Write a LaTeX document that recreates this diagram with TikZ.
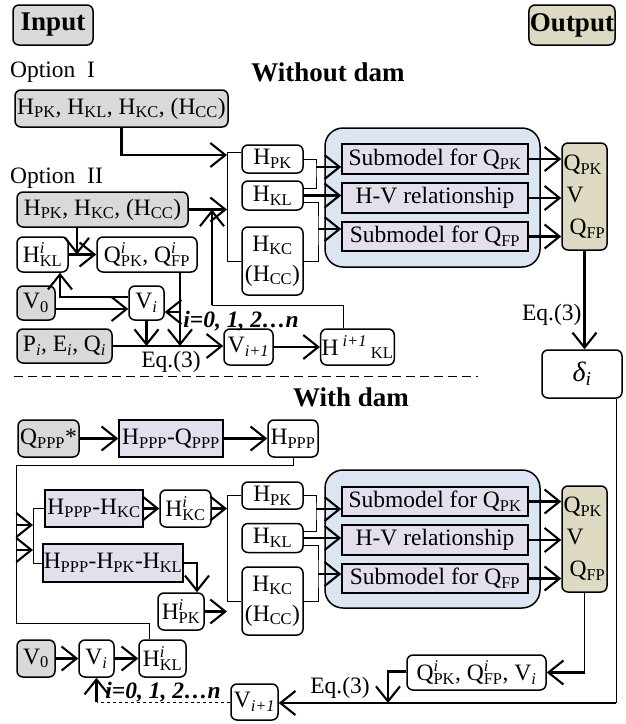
\documentclass[tikz,border=0pt]{standalone}
\usepackage{fontspec}
\setmainfont{Liberation Serif}
\usepackage{tikz}
\usetikzlibrary{arrows.meta}
\definecolor{inputgray}{HTML}{D9D9D9}
\definecolor{modelblue}{HTML}{DCE6F2}
\definecolor{sublilac}{HTML}{E4DFEC}
\definecolor{outtan}{HTML}{DDD9C3}
\newcommand\lo[1]{\textsubscript{#1}}
\newcommand\Hsi[2]{#1\rlap{\textsuperscript{\itshape i}}\lo{#2}}
\newcommand\iterlabel{\textbf{\textit{i=0, 1, 2\ldots n}}}

\begin{document}
\begin{tikzpicture}[
  x=1pt,y=-1pt,
  font=\fontsize{23.5}{26}\selectfont,
  every node/.style={inner sep=1pt},
  inbox/.style={draw,rounded corners=6pt,line width=1.5pt,fill=inputgray},
  varbox/.style={draw,rounded corners=6pt,line width=1.5pt,fill=white},
  funbox/.style={draw,line width=1.5pt,fill=sublilac},
  modelbox/.style={draw,rounded corners=18pt,line width=1.5pt,fill=modelblue},
  outbox/.style={draw,rounded corners=6pt,line width=1.5pt,fill=outtan},
  title/.style={font=\fontsize{27}{30}\selectfont\bfseries},
  arrow/.style={-{Straight Barb[length=15pt,width=24pt]},line width=2.1pt},
  link/.style={line width=0.9pt}
]
\useasboundingbox (0,0) rectangle (625,724);

% headings
\node[inbox,title,minimum width=80,minimum height=40] (input) at (53,25) {Input};
\node[outbox,title,minimum width=80,minimum height=40] (output) at (572,25) {Output};
\node[anchor=west] (opt1) at (9,72) {Option~~I};
\node[title] (nodam) at (328,72) {Without dam};
\node[anchor=west] (opt2) at (9,178) {Option~~II};

% without dam: inputs
\node[inbox,minimum width=213,minimum height=37] (in1) at (121.5,108.5)
  {H\lo{PK}, H\lo{KL}, H\lo{KC}, (H\lo{CC})};
\node[inbox,minimum width=171,minimum height=35] (in2) at (102.5,209.5)
  {H\lo{PK}, H\lo{KC}, (H\lo{CC})};
\node[varbox,minimum width=51,minimum height=35] (hkli) at (42.5,254.5) {\Hsi{H}{KL}};
\node[varbox,minimum width=100,minimum height=35] (qi) at (147,254.5) {\Hsi{Q}{PK}, \Hsi{Q}{FP}};
\node[inbox,minimum width=38,minimum height=34] (v0) at (36,303) {V\lo{0}};
\node[varbox,minimum width=35,minimum height=34] (vi) at (146.5,303) {V\lo{\itshape i}};
\node[inbox,minimum width=95,minimum height=34] (pei) at (64.5,346)
  {P\lo{\itshape i}, E\lo{\itshape i}, Q\lo{\itshape i}};
\node[varbox,minimum width=49,minimum height=36] (vip) at (248.5,347) {V\lo{\itshape i+1}};
\node[varbox,minimum width=67,minimum height=36] (hklip) at (357.5,347)
  {H\,\textsuperscript{\itshape i+1}\,\lo{KL}};
\node (eqa) at (171,362) {Eq.(3)};
\node (itera) at (241,321) {\iterlabel};

% without dam: model
\node[varbox,minimum width=61,minimum height=28] (hpk) at (272.5,159) {H\lo{PK}};
\node[varbox,minimum width=61,minimum height=29] (hkl) at (272.5,195.5) {H\lo{KL}};
\node[varbox,minimum width=61,minimum height=68,align=center,
  font=\fontsize{23.5}{30}\selectfont] (hkc) at (272.5,261) {H\lo{KC}\\(H\lo{CC})};
\node[modelbox,minimum width=215,minimum height=139] (model) at (432.5,197.5) {};
\node[funbox,minimum width=186,minimum height=30] (sqpk) at (435,159) {Submodel for Q\lo{PK}};
\node[funbox,minimum width=186,minimum height=30] (hv) at (435,198) {H-V relationship};
\node[funbox,minimum width=186,minimum height=29] (sqfp) at (435,236.5) {Submodel for Q\lo{FP}};
\node[outbox,minimum width=45,minimum height=107,align=left,
  font=\fontsize{23.5}{32}\selectfont] (res) at (584.5,196.5)
  {Q\lo{PK}\\\hspace*{3pt}V\\\hspace*{6pt}Q\lo{FP}};
\node[varbox,minimum width=80,minimum height=48,font=\fontsize{28}{30}\selectfont\itshape]
  (delta) at (582,374) {δ\lo{i}};

\coordinate (ja) at (227,155);
\coordinate (ka) at (316,167);
\coordinate (kb) at (318,229);
\coordinate (up) at (212,305);
\coordinate (mq) at (77,254.5);
\coordinate (eq) at (180,346);
\coordinate (fb) at (180,312);

\draw[arrow] (in1.south) |- (ja);
\draw[link] ([yshift=7pt]hpk.west) -| (hkc.west -| ja) -- (hkc.west);
\draw[arrow] (in2.east) -- (in2.east -| ja);
\draw[link] ([xshift=-14pt]hklip.north) |- (up);
\draw[arrow] (up) -- (up |- in2.east);
\draw[link] (hpk.east) -| (ka) |- ([yshift=7pt]hkl.east);
\draw[arrow] (ka) -- (ka -| sqpk.west);
\draw[arrow] (hkl.east) -- (hkl.east -| hv.west);
\draw[link] ([yshift=-7pt]hkl.east) -| (kb) |- (hkc.east);
\draw[arrow] (kb) -- (kb -| sqfp.west);
\draw[arrow] (sqpk.east) -- (sqpk.east -| res.west);
\draw[arrow] (hv.east) -- (hv.east -| res.west);
\draw[arrow] (sqfp.east) -- (sqfp.east -| res.west);
\draw[arrow] (res.south) -- (res.south |- delta.north)
  node[pos=0.65,left,inner sep=2pt] {Eq.(3)};
\draw[arrow] (hkli.east) -- (qi.west);
\draw[arrow] (in2.south -| mq) -- (mq);
\draw[arrow] ([yshift=6pt]vi.west) -| ([xshift=17.5pt]hkli.south);
\draw[arrow] ([yshift=-6pt]v0.east) -- ([yshift=-6pt]vi.west);
\draw[arrow] (qi.south -| eq) -- (eq);
\draw[arrow] (fb) -- (fb -| vi.east);
\draw[arrow] (vi.south) -- (vi.south |- eq);
\draw[arrow] (pei.east) -- (pei.east -| vip.west);
\draw[arrow] (vip.east) -- (hklip.west);

% separator
\coordinate (sepl) at (14,376);
\coordinate (sepr) at (478,376);
\draw[line width=0.9pt,dash pattern=on 9pt off 5pt] (sepl) -- (sepr);
\node[title] (dam) at (351,397) {With dam};

% with dam: inputs
\node[inbox,minimum width=61,minimum height=37] (qppp) at (48.5,438.5) {Q\lo{PPP}*};
\node[funbox,minimum width=104,minimum height=37] (hqppp) at (171,438.5) {H\lo{PPP}-Q\lo{PPP}};
\node[varbox,minimum width=50,minimum height=37] (hppp) at (293,438.5) {H\lo{PPP}};
\node[funbox,minimum width=98,minimum height=37] (hkcfun) at (94,508.5) {H\lo{PPP}-H\lo{KC}};
\node[varbox,minimum width=51,minimum height=37] (hkci) at (185.5,508.5) {\Hsi{H}{KC}};
\node[funbox,minimum width=140,minimum height=38] (hpklfun) at (113,563)
  {H\lo{PPP}-H\lo{PK}-H\lo{KL}};
\node[varbox,minimum width=46,minimum height=37] (hpki) at (181,611.5) {\Hsi{H}{PK}};
\node[inbox,minimum width=38,minimum height=37] (v02) at (36,658.5) {V\lo{0}};
\node[varbox,minimum width=35,minimum height=37] (vi2) at (96.5,658.5) {V\lo{\itshape i}};
\node[varbox,minimum width=47,minimum height=37] (hkli2) at (162.5,658.5) {\Hsi{H}{KL}};
\node[varbox,minimum width=139,minimum height=35] (qif) at (476.5,672.5)
  {\Hsi{Q}{PK}, \Hsi{Q}{FP}, V\lo{\itshape i}};
\node[varbox,minimum width=47,minimum height=36] (vip2) at (254.5,702) {V\lo{\itshape i+1}};
\node (eqb) at (340,688) {Eq.(3)};
\node (iterb) at (163,692) {\iterlabel};

% with dam: model
\node[varbox,minimum width=61,minimum height=27] (hpk2) at (272.5,495.5) {H\lo{PK}};
\node[varbox,minimum width=61,minimum height=29] (hkl2) at (272.5,538) {H\lo{KL}};
\node[varbox,minimum width=61,minimum height=68,align=center,
  font=\fontsize{23.5}{30}\selectfont] (hkc2) at (272.5,601) {H\lo{KC}\\(H\lo{CC})};
\node[modelbox,minimum width=215,minimum height=138] (model2) at (432.5,539) {};
\node[funbox,minimum width=186,minimum height=29] (sqpk2) at (435,501.5) {Submodel for Q\lo{PK}};
\node[funbox,minimum width=186,minimum height=30] (hv2) at (435,540) {H-V relationship};
\node[funbox,minimum width=186,minimum height=29] (sqfp2) at (435,578.5) {Submodel for Q\lo{FP}};
\node[outbox,minimum width=45,minimum height=106,align=left,
  font=\fontsize{23.5}{32}\selectfont] (res2) at (584.5,539)
  {Q\lo{PK}\\\hspace*{3pt}V\\\hspace*{6pt}Q\lo{FP}};

\coordinate (la) at (16,465);
\coordinate (lo) at (16,623);
\coordinate (lb) at (16,525);
\coordinate (lc) at (16,550);
\coordinate (jd) at (33,508.5);
\coordinate (je) at (227,508.5);
\coordinate (kc) at (316,509);
\coordinate (kd) at (318,574);
\coordinate (mb) at (388,703);
\coordinate (rc) at (616,703);

\draw[arrow] (qppp.east) -- (hqppp.west);
\draw[arrow] (hqppp.east) -- (hppp.west);
\draw[link] (hppp.south) |- (la) -- (lo) -| ([xshift=-13pt]hkli2.north);
\draw[arrow] (lb) -- (lb -| jd);
\draw[arrow] (lc) -- (lc -| jd);
\draw[link] (hkcfun.west) -| (jd) |- (hpklfun.west);
\draw[arrow] (hkcfun.east) -- (hkci.west);
\draw[arrow] (hkci.east) -- (je);
\draw[link] (hpk2.west) -| (hkc2.west -| je) -- (hkc2.west);
\draw[arrow] (hpklfun.east) -| ([xshift=16pt]hpki.north);
\draw[arrow] (hpki.east) -- (hpki.east -| je);
\draw[link] (hpk2.east) -| (kc) |- ([yshift=7pt]hkl2.east);
\draw[arrow] (kc) -- (kc -| sqpk2.west);
\draw[arrow] (hkl2.east) -- (hkl2.east -| hv2.west);
\draw[link] ([yshift=-7pt]hkl2.east) -| (kd) |- (hkc2.east);
\draw[arrow] (kd) -- (kd -| sqfp2.west);
\draw[arrow] (sqpk2.east) -- (sqpk2.east -| res2.west);
\draw[arrow] (hv2.east) -- (hv2.east -| res2.west);
\draw[arrow] (sqfp2.east) -- (sqfp2.east -| res2.west);
\draw[link] (res2.south) -- (res2.south |- qif.east);
\draw[arrow] (res2.south |- qif.east) -- (qif.east);
\draw[arrow] ([yshift=1pt]qif.west) -| (mb);
\draw[link] ([xshift=34pt]delta.south) -- (rc);
\draw[arrow] (rc) -- (rc -| vip2.east);
\draw[link,dashed] (vip2.west) -- (vip2.west -| vi2.south);
\draw[arrow] (vip2.west -| vi2.south) -- (vi2.south);
\draw[arrow] (v02) -- (vi2);
\draw[arrow] (vi2) -- (hkli2);
\end{tikzpicture}
\end{document}
